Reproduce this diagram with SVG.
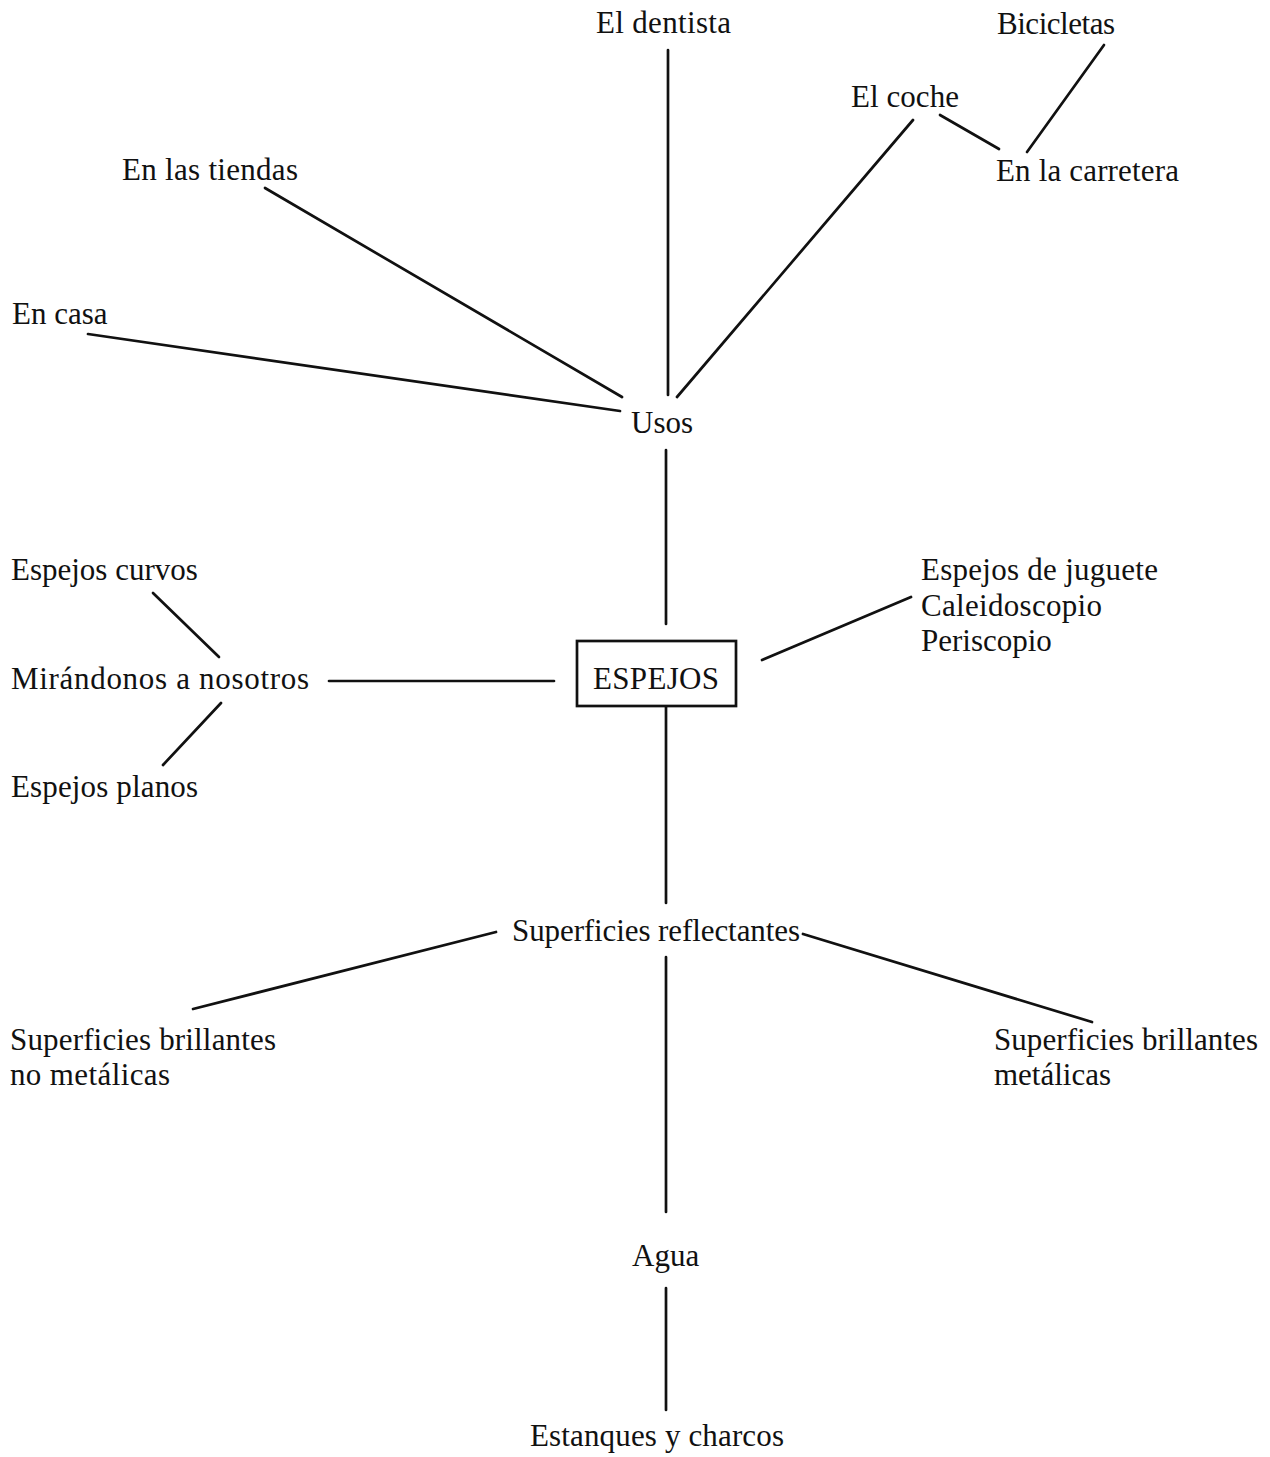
<svg xmlns="http://www.w3.org/2000/svg" width="1270" height="1457" viewBox="0 0 1270 1457">
  <style>
    text { font-family: "Liberation Serif", "DejaVu Serif", serif; font-size: 31px; fill: #111; }
    .link { stroke: #111; stroke-width: 2.7; fill: none; stroke-linecap: round; }
    .box { stroke: #111; stroke-width: 2.7; fill: #fff; }
  </style>
  <rect width="1270" height="1457" fill="#fff"/>

  <!-- connectors -->
  <g id="connectors">
    <line class="link" x1="668" y1="50" x2="668" y2="395"/>
    <line class="link" x1="265" y1="188" x2="622" y2="397"/>
    <line class="link" x1="88" y1="334" x2="620" y2="411"/>
    <line class="link" x1="913" y1="120" x2="677" y2="397"/>
    <line class="link" x1="940" y1="115" x2="999" y2="149"/>
    <line class="link" x1="1104" y1="45" x2="1027" y2="152"/>
    <line class="link" x1="666" y1="450" x2="666" y2="624"/>
    <line class="link" x1="762" y1="660" x2="911" y2="597"/>
    <line class="link" x1="329" y1="681" x2="554" y2="681"/>
    <line class="link" x1="153" y1="593" x2="219" y2="657"/>
    <line class="link" x1="221" y1="703" x2="163" y2="765"/>
    <line class="link" x1="666" y1="706" x2="666" y2="903"/>
    <line class="link" x1="496" y1="932" x2="193" y2="1009"/>
    <line class="link" x1="803" y1="934" x2="1092" y2="1022"/>
    <line class="link" x1="666" y1="957" x2="666" y2="1212"/>
    <line class="link" x1="666" y1="1288" x2="666" y2="1410"/>
  </g>

  <!-- nodes -->
  <g id="node-espejos">
    <rect class="box" x="577" y="641" width="159" height="65"/>
    <text x="593" y="689" textLength="126">ESPEJOS</text>
  </g>
  <g id="node-usos"><text x="631" y="433">Usos</text></g>
  <g id="node-dentista"><text x="596" y="33" textLength="135">El dentista</text></g>
  <g id="node-bicicletas"><text x="997" y="34" textLength="118">Bicicletas</text></g>
  <g id="node-coche"><text x="851" y="107" textLength="108">El coche</text></g>
  <g id="node-tiendas"><text x="122" y="180" textLength="176">En las tiendas</text></g>
  <g id="node-carretera"><text x="996" y="181" textLength="183">En la carretera</text></g>
  <g id="node-casa"><text x="12" y="324">En casa</text></g>
  <g id="node-curvos"><text x="11" y="580">Espejos curvos</text></g>
  <g id="node-mirandonos"><text x="11" y="689" textLength="298">Mirándonos a nosotros</text></g>
  <g id="node-planos"><text x="11" y="797" textLength="187">Espejos planos</text></g>
  <g id="node-juguete">
    <text x="921" y="580" textLength="237">Espejos de juguete</text>
    <text x="921" y="616" textLength="181">Caleidoscopio</text>
    <text x="921" y="651">Periscopio</text>
  </g>
  <g id="node-superficies"><text x="512" y="941" textLength="288">Superficies reflectantes</text></g>
  <g id="node-no-metalicas">
    <text x="10" y="1050" textLength="266">Superficies brillantes</text>
    <text x="10" y="1085" textLength="160">no metálicas</text>
  </g>
  <g id="node-metalicas">
    <text x="994" y="1050" textLength="264">Superficies brillantes</text>
    <text x="994" y="1085">metálicas</text>
  </g>
  <g id="node-agua"><text x="632" y="1266">Agua</text></g>
  <g id="node-estanques"><text x="530" y="1446" textLength="254">Estanques y charcos</text></g>
</svg>
